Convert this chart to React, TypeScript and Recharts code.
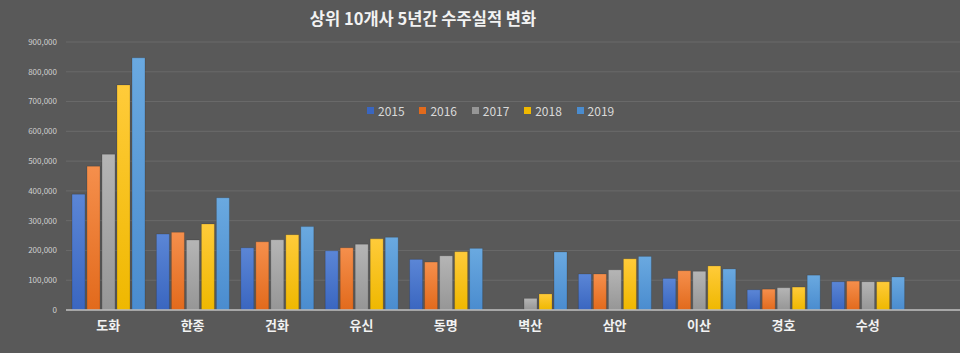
import { BarChart, Bar, XAxis, YAxis, CartesianGrid, Legend } from "recharts"

const companies = ["도화", "한종", "건화", "유신", "동명", "벽산", "삼안", "이산", "경호", "수성"]
const y2015 = [389000, 255000, 209000, 199000, 170000, 0, 121000, 106000, 68000, 95000]
const y2016 = [483000, 261000, 229000, 209000, 161000, 0, 121000, 132000, 70000, 97000]
const y2017 = [523000, 235000, 236000, 221000, 182000, 39000, 135000, 130000, 75000, 95000]
const y2018 = [756000, 289000, 253000, 239000, 196000, 54000, 172000, 148000, 77000, 95000]
const y2019 = [847000, 377000, 280000, 244000, 207000, 195000, 180000, 138000, 117000, 111000]
const yTicks = [0, 100000, 200000, 300000, 400000, 500000, 600000, 700000, 800000, 900000]
const years = ["2015", "2016", "2017", "2018", "2019"]

const colors: Record<string, [string, string]> = {
  "2015": ["#5b86d6", "#3a66c0"],
  "2016": ["#f58f4c", "#e26a1c"],
  "2017": ["#b5b5b5", "#969696"],
  "2018": ["#ffcb3a", "#efb800"],
  "2019": ["#6aa9e0", "#4a8ccf"],
}

const data = companies.map((name, i) => ({
  name,
  "2015": y2015[i],
  "2016": y2016[i],
  "2017": y2017[i],
  "2018": y2018[i],
  "2019": y2019[i],
}))

const font = "'Noto Sans CJK KR', 'Noto Sans', sans-serif"

function LegendBox() {
  return (
    <div style={{ display: "flex", fontFamily: font, fontSize: 12, color: "#d9d9d9" }}>
      {years.map((y) => (
        <div key={y} style={{ display: "flex", alignItems: "center", width: 52.4 }}>
          <span style={{ width: 7, height: 7, background: colors[y][1], marginRight: 4 }} />
          <span>{y}</span>
        </div>
      ))}
    </div>
  )
}

export default function App() {
  return (
    <div style={{ position: "absolute", left: 0, top: 0, width: 960, height: 353, background: "#595959", overflow: "hidden" }}>
      <div
        style={{
          position: "absolute",
          left: 423,
          top: 6,
          transform: "translateX(-50%)",
          fontFamily: font,
          fontWeight: 700,
          fontSize: 16.5,
          color: "#f2f2f2",
          whiteSpace: "nowrap",
        }}
      >
        상위 10개사 5년간 수주실적 변화
      </div>
      <BarChart
        width={960}
        height={353}
        data={data}
        margin={{ top: 42, right: 0, left: 0, bottom: 13 }}
        barCategoryGap={6}
        barGap={2}
      >
        <defs>
          {years.map((y) => (
            <linearGradient key={y} id={`g${y}`} x1="0" y1="0" x2="0" y2="1">
              <stop offset="0%" stopColor={colors[y][0]} />
              <stop offset="100%" stopColor={colors[y][1]} />
            </linearGradient>
          ))}
        </defs>
        <CartesianGrid vertical={false} stroke="#6a6a6a" strokeWidth={1} />
        <XAxis
          dataKey="name"
          height={30}
          padding={{ left: 0, right: 50 }}
          tickLine={false}
          tickSize={0}
          tickMargin={11}
          axisLine={{ stroke: "#bfbfbf", strokeWidth: 1.5 }}
          tick={{ fill: "#f2f2f2", fontSize: 13, fontFamily: font, fontWeight: 700 }}
        />
        <YAxis
          width={66}
          domain={[0, 900000]}
          ticks={yTicks}
          interval={0}
          axisLine={false}
          tickLine={false}
          tickSize={0}
          tickMargin={9}
          tickFormatter={(v: number) => v.toLocaleString("en-US")}
          tick={{ fill: "#d0d0d0", fontSize: 8, fontFamily: font }}
        />
        <Legend
          layout="horizontal"
          verticalAlign="middle"
          align="center"
          content={<LegendBox />}
          wrapperStyle={{ top: 102, left: 367, width: 270 }}
        />
        {years.map((y) => (
          <Bar key={y} dataKey={y} fill={`url(#g${y})`} stroke="rgba(0,0,0,0.25)" strokeWidth={0.6} isAnimationActive={false} />
        ))}
      </BarChart>
    </div>
  )
}
